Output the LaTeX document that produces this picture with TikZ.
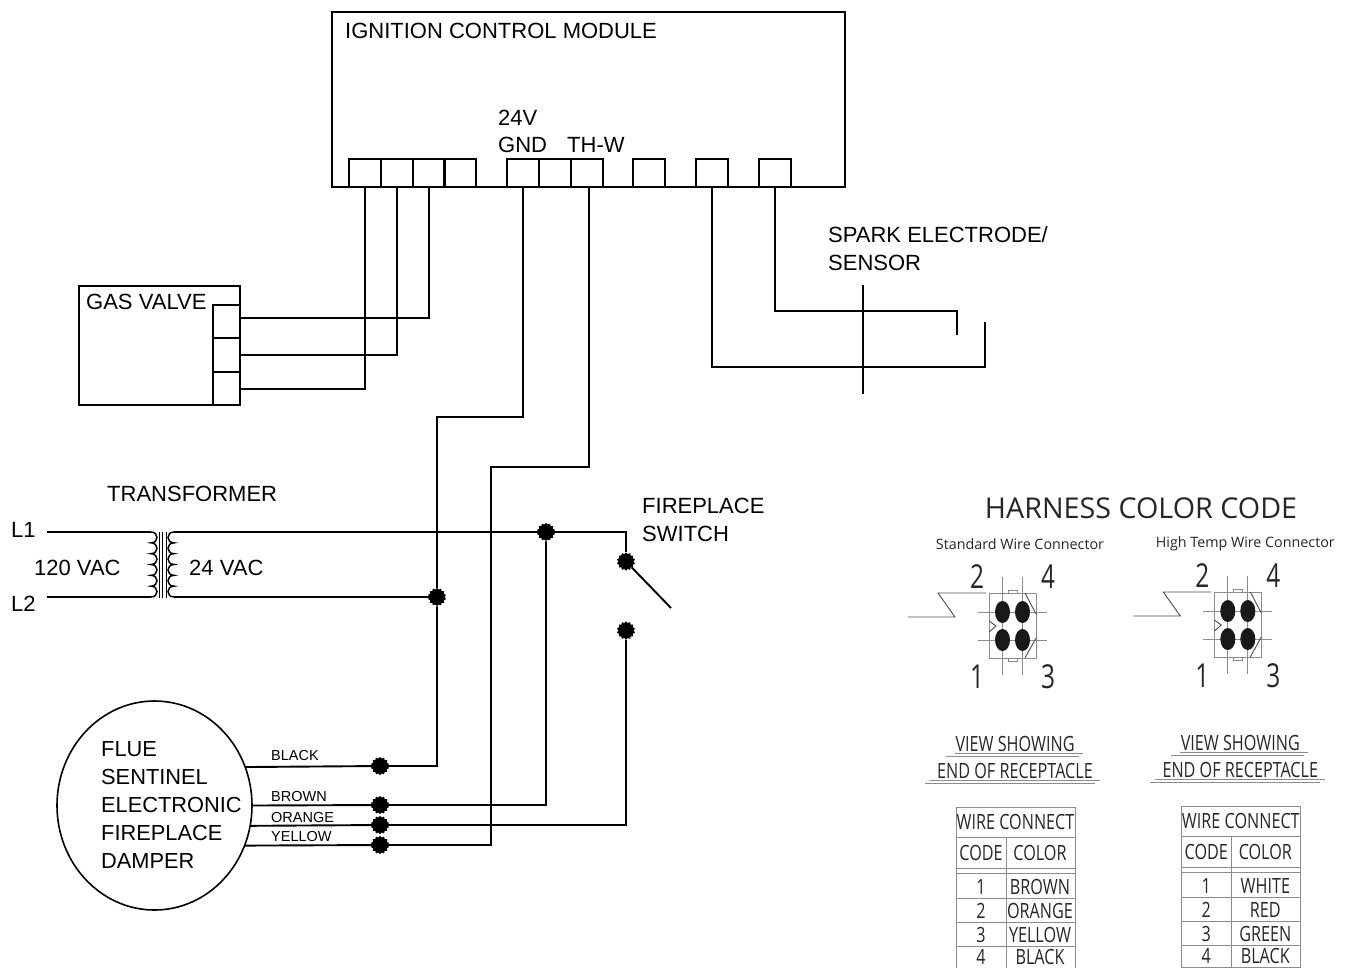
\documentclass[tikz,border=0pt]{standalone}
\usepackage{fontspec}
\setmainfont{Liberation Sans}
\newfontfamily\harnessfont{Open Sans}
\usetikzlibrary{shapes.geometric}
\tikzset{
  wire/.style={line width=1.9pt},
  thinwire/.style={line width=1.5pt},
  term/.style={draw,line width=1.6pt,minimum width=32pt,minimum height=28pt,inner sep=0pt,outer sep=0pt},
  valveterm/.style={draw,line width=1.6pt,minimum width=27pt,inner sep=0pt,outer sep=0pt},
  dot/.style={star,star points=14,star point ratio=1.22,fill=black,minimum size=18.5pt,inner sep=0pt,outer sep=0pt},
  lab/.style={font=\fontsize{22}{28}\selectfont,anchor=west,align=left,inner sep=0pt},
  wirelab/.style={font=\fontsize{14.5}{16}\selectfont,anchor=west,inner sep=0pt},
  hline/.style={draw=black!45,line width=.9pt},
  pinblob/.style={ellipse,fill=black!90,minimum width=15pt,minimum height=22pt,inner sep=0pt},
  cond/.style={font=\harnessfont\fontsize{21}{24}\selectfont,xscale=.77,text=black!85,inner sep=0pt},
  pinnum/.style={font=\harnessfont\fontsize{33}{36}\selectfont,xscale=.74,text=black!85,inner sep=0pt}
}
\begin{document}
\begin{tikzpicture}[x=1pt,y=-1pt]
  \useasboundingbox (0,0) rectangle (1351,967);
  % control module
  \node[draw,wire,minimum width=513pt,minimum height=175pt,inner sep=0pt,outer sep=0pt] (icm) at (588.5,99.5) {};
  \foreach \tname/\tx in {tva/365,tvb/397,tvc/429,td/460,tgnd/523,tf/555,thw/587,tg/649,tspark/712,tsensor/775}
    \node[term] (\tname) at (\tx,173) {};
  \node[lab] (icmlab) at (345,31) {IGNITION CONTROL MODULE};
  \node[lab] (v24) at (498,118) {24V};
  \node[lab] (gnd) at (498,145) {GND};
  \node[lab] (thwlab) at (567,145) {TH-W};

  % gas valve
  \node[draw,wire,minimum width=161pt,minimum height=119pt,inner sep=0pt,outer sep=0pt] (valve) at (159.5,345.5) {};
  \node[lab] (valvelab) at (86,302) {GAS VALVE};
  \node[valveterm,minimum height=33pt] (vta) at (226.5,321.5) {};
  \node[valveterm,minimum height=34pt] (vtb) at (226.5,355) {};
  \node[valveterm,minimum height=33pt] (vtc) at (226.5,389) {};
  \draw[wire] (tvc.south) |- ([yshift=3.5pt]vta.east);
  \draw[wire] (tvb.south) |- (vtb.east);
  \draw[wire] (tva.south) |- (vtc.east);

  % spark electrode
  \node[lab] (sparklab) at (828,249) {SPARK ELECTRODE/\\SENSOR};
  \coordinate (cornera) at (957,311);
  \coordinate (tipa) at (957,335);
  \coordinate (cornerb) at (985,367);
  \coordinate (tipb) at (985,322);
  \coordinate (rodtop) at (863,285);
  \coordinate (rodbot) at (863,394);
  \draw[wire] (tsensor.south) |- (cornera) -- (tipa);
  \draw[wire] (tspark.south) |- (cornerb) -- (tipb);
  \draw[wire] (rodtop) -- (rodbot);

  % damper
  \node[draw,line width=1.6pt,ellipse,minimum width=195pt,minimum height=209pt,inner sep=0pt,outer sep=0pt] (flue) at (154.5,805.5) {};
  \node[lab,font=\fontsize{21.8}{27.8}\selectfont] (fluelab) at (101,805) {FLUE\\SENTINEL\\ELECTRONIC\\FIREPLACE\\DAMPER};
  \node[dot] (jblack) at (380,766) {};
  \node[dot] (jbrown) at (380,805) {};
  \node[dot] (jorange) at (380,825) {};
  \node[dot] (jyellow) at (380,845) {};
  \node[wirelab] (blacklab) at (271,755) {BLACK};
  \node[wirelab] (brownlab) at (271,796.5) {BROWN};
  \node[wirelab] (orangelab) at (271,817) {ORANGE};
  \node[wirelab] (yellowlab) at (271,836.5) {YELLOW};

  % transformer
  \node[lab] (l1) at (11,530) {L1};
  \node[lab] (l2) at (11,604) {L2};
  \node[lab] (v120) at (34,568) {120 VAC};
  \node[lab] (vac24) at (189,568) {24 VAC};
  \node[lab] (xflab) at (107,494) {TRANSFORMER};
  \coordinate (pa) at (151,532);
  \coordinate (pb) at (151,597);
  \coordinate (sa) at (174,532);
  \coordinate (sb) at (174,597);
  \draw[wire] (l1.east) ++(11,2) -- (pa);
  \draw[wire] (l2.east) ++(11,-7) -- (pb);
  \draw[thinwire] (pa) \foreach \n in {1,...,6}{ .. controls +(8,0) and +(8,0) .. ++(0,10.83)};
  \draw[thinwire] (sa) \foreach \n in {1,...,6}{ .. controls +(-8,0) and +(-8,0) .. ++(0,10.83)};
  \foreach \cx in {159,162,166}
    \draw[line width=1pt] (\cx,532) -- (\cx,598);

  % switch
  \node[lab] (switchlab) at (642,520) {FIREPLACE\\SWITCH};
  \node[dot] (jl1) at (546,532) {};
  \node[dot] (jl2) at (437,597) {};
  \node[dot] (swa) at (626,561.5) {};
  \node[dot] (swb) at (626,630.5) {};
  \coordinate (armend) at (671,608);
  \coordinate (swcorner) at (626,532);
  \draw[wire] (sa) -- (jl1) -- (swcorner) -- (swa);
  \draw[wire] (sb) -- (jl2);
  \draw[wire] (swa) -- (armend);

  % wiring to damper
  \coordinate (benda) at (437,417);
  \coordinate (bendb) at (491,467);
  \draw[wire] (tgnd.south) |- (benda) -- (jl2) |- (jblack) -- (flue.23);
  \draw[wire] ([xshift=2pt]thw.south) |- (bendb) |- (jyellow) -- (flue.-24);
  \draw[wire] (jl1) |- (jbrown) -- (flue.east);
  \draw[wire] (swb) |- (jorange) -- (flue.-12);

  % harness color code
  \node[font=\harnessfont\fontsize{28.7}{32}\selectfont,text=black!85,inner sep=0pt] (harness) at (1141,508) {HARNESS COLOR CODE};
  \foreach \dx/\dy/\hname/\ca/\cb/\cc/\cd in {0/0/Standard Wire Connector/BROWN/ORANGE/YELLOW/BLACK,225.3/-1/High Temp Wire Connector/WHITE/RED/GREEN/BLACK}{
    \begin{scope}[shift={(\dx,\dy)}]
      \node[font=\harnessfont\fontsize{14.3}{16}\selectfont,text=black!85,inner sep=0pt] (hn\dx) at (1020,544.5) {\hname};
      % connector
      \draw[hline] (989,593) rectangle (1036,658);
      \draw[hline] (1008,593) |- (1017,590) -- (1017,593);
      \draw[hline] (1008,658) |- (1017,661) -- (1017,658);
      \draw[hline] (1002.5,577) -- (1002.5,675);
      \draw[hline] (1022.5,577) -- (1022.5,675);
      \draw[hline] (978,612) -- (1047,612);
      \draw[hline] (978,640) -- (1047,640);
      \draw[line width=.9pt,black!70] (908,617) -- (955,617) -- (938,593) -- (986,593);
      \draw[line width=.9pt,black!70] (989,621) -- (996,626) -- (989,632);
      \draw[line width=.9pt,black!70] (1025,593) -- (1036,614);
      \draw[line width=.9pt,black!70] (1025,658) -- (1036,638);
      \node[pinblob] (pa\dx) at (1002.5,612) {};
      \node[pinblob] (pb\dx) at (1022.5,612) {};
      \node[pinblob] (pc\dx) at (1002.5,640) {};
      \node[pinblob] (pd\dx) at (1022.5,640) {};
      \node[pinnum] (na\dx) at (977,577) {2};
      \node[pinnum] (nb\dx) at (1048,577) {4};
      \node[pinnum] (nc\dx) at (977,677) {1};
      \node[pinnum] (nd\dx) at (1048,677) {3};
      % caption
      \node[cond] (vs\dx) at (1015,744) {VIEW SHOWING};
      \node[cond] (er\dx) at (1015,771) {END OF RECEPTACLE};
      \draw[hline] (955,753) -- (1083,753);
      \draw[hline] (946,756) -- (1079,756);
      \draw[hline] (930,780) -- (1100,780);
      \draw[hline] (925,783) -- (1095,783);
      % table
      \draw[hline] (956,807) rectangle (1075,968);
      \draw[hline] (1006,837) -- (1006,968);
      \foreach \ry in {837,868,873,898,922,946}
        \draw[hline] (956,\ry) -- (1075,\ry);
      \node[cond] (wc\dx) at (1015.5,821.5) {WIRE CONNECT};
      \node[cond] (ch\dx) at (981,853) {CODE};
      \node[cond] (cl\dx) at (1040,853) {COLOR};
      \node[cond] (ra\dx) at (981,886.5) {1};
      \node[cond] (rb\dx) at (981,910.5) {2};
      \node[cond] (rc\dx) at (981,934.5) {3};
      \node[cond] (rd\dx) at (981,957) {4};
      \node[cond] (ca\dx) at (1040,886.5) {\ca};
      \node[cond] (cb\dx) at (1040,910.5) {\cb};
      \node[cond] (cc\dx) at (1040,934.5) {\cc};
      \node[cond] (cd\dx) at (1040,957) {\cd};
    \end{scope}
  }
\end{tikzpicture}
\end{document}
